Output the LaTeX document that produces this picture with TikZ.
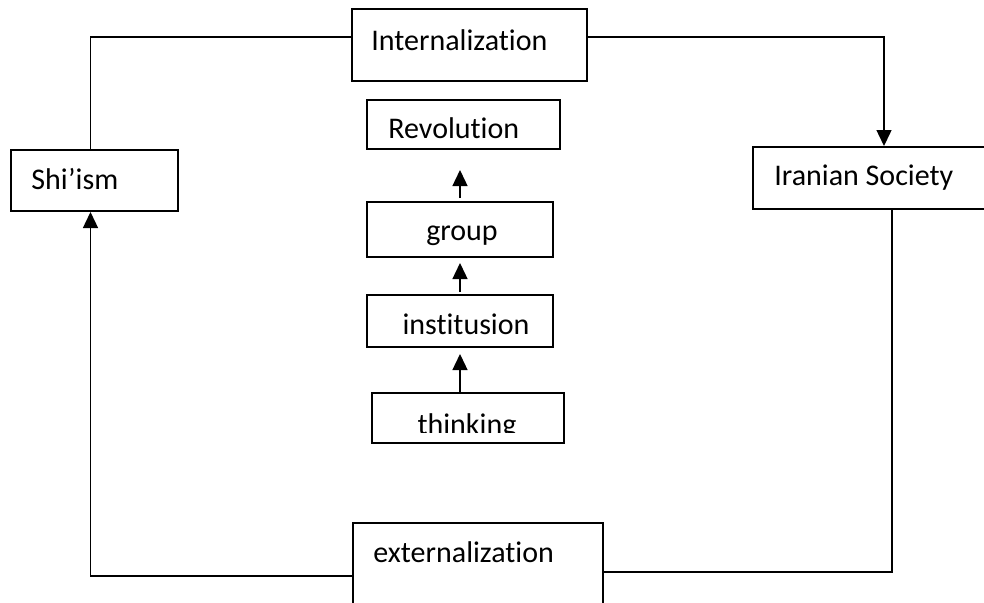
\documentclass[tikz,border=0pt]{standalone}
\usepackage{fontspec}
\setmainfont{Carlito}[Ligatures=NoCommon]
\usepackage{tikz}
\usetikzlibrary{arrows.meta,calc}
\tikzset{
  box/.style={rectangle, draw=black, line width=1pt, fill=white, inner sep=0pt},
  lbl/.style={font=\fontsize{15}{18}\selectfont, inner sep=0pt},
  conn/.style={draw=black, line width=0.7pt},
  arr/.style={conn, -{Triangle[length=8pt, width=7.5pt]}},
}

\begin{document}
\begin{tikzpicture}[x=0.5pt, y=-0.5pt]
  \useasboundingbox (0,0) rectangle (984,602);
  \clip (0,0) rectangle (984,602);
  \fill[white] (0,0) rectangle (984,602);
  % outer cycle
  \node[box, minimum width=117.5pt, minimum height=36pt] (int) at (469.5,45) {};
  \node[box, minimum width=83.5pt, minimum height=30.5pt] (shi) at (94.5,180.5) {};
  \node[box, minimum width=147pt, minimum height=31pt] (ira) at (900,178) {};
  \node[box, minimum width=125pt, minimum height=49pt] (ext) at (478,572) {};
  % inner chain
  \node[box, minimum width=96.5pt, minimum height=24.5pt] (rev) at (463.5,124.5) {};
  \node[box, minimum width=93pt, minimum height=27.5pt] (grp) at (460,229.5) {};
  \node[box, minimum width=93pt, minimum height=26pt] (ins) at (460,321) {};
  \node[box, minimum width=96pt, minimum height=25pt] (thk) at (468,418) {};

  \node[lbl, anchor=base west] (intT) at ($(int.west)+(20,5)$) {Internalization};
  \node[lbl, anchor=base west] (shiT) at ($(shi.west)+(21,8.5)$) {Shi’ism};
  \node[lbl, anchor=base west] (iraT) at ($(ira.west)+(22,7)$) {Iranian Society};
  \node[lbl, anchor=base west] (extT) at ($(ext.west)+(21,-10)$) {externalization};
  \node[lbl, anchor=base west] (revT) at ($(rev.west)+(22,13.5)$) {Revolution};
  \node[lbl, anchor=base] (grpT) at ($(grp.center)+(2,10.5)$) {group};
  \node[lbl, anchor=base] (insT) at ($(ins.center)+(6,13)$) {institusion};
  \begin{scope}
    \clip ($(thk.north west)+(2,2)$) rectangle ($(thk.east)+(-2,14)$);
    \node[lbl, anchor=base] (thkT) at ($(thk.center)+(-1,16)$) {thinking};
  \end{scope}

  \draw[conn] ($(shi.north)+(-4,0)$) |- ($(int.west)+(0,-8)$);
  \draw[arr] ($(int.east)+(0,-8)$) -| ($(ira.north)+(-16,0)$);
  \draw[conn] ($(ira.south)+(-8,0)$) |- (ext.east);
  \draw[arr] ($(ext.west)+(0,4)$) -| ($(shi.south)+(-4,0)$);

  \draw[arr, shorten <=1.5pt, shorten >=10pt] (grp.north) -- (grp.north |- rev.south);
  \draw[arr, shorten <=1pt, shorten >=2.5pt] (ins.north) -- (ins.north |- grp.south);
  \draw[arr, shorten >=3pt] (ins.south |- thk.north) -- (ins.south);
\end{tikzpicture}
\end{document}
